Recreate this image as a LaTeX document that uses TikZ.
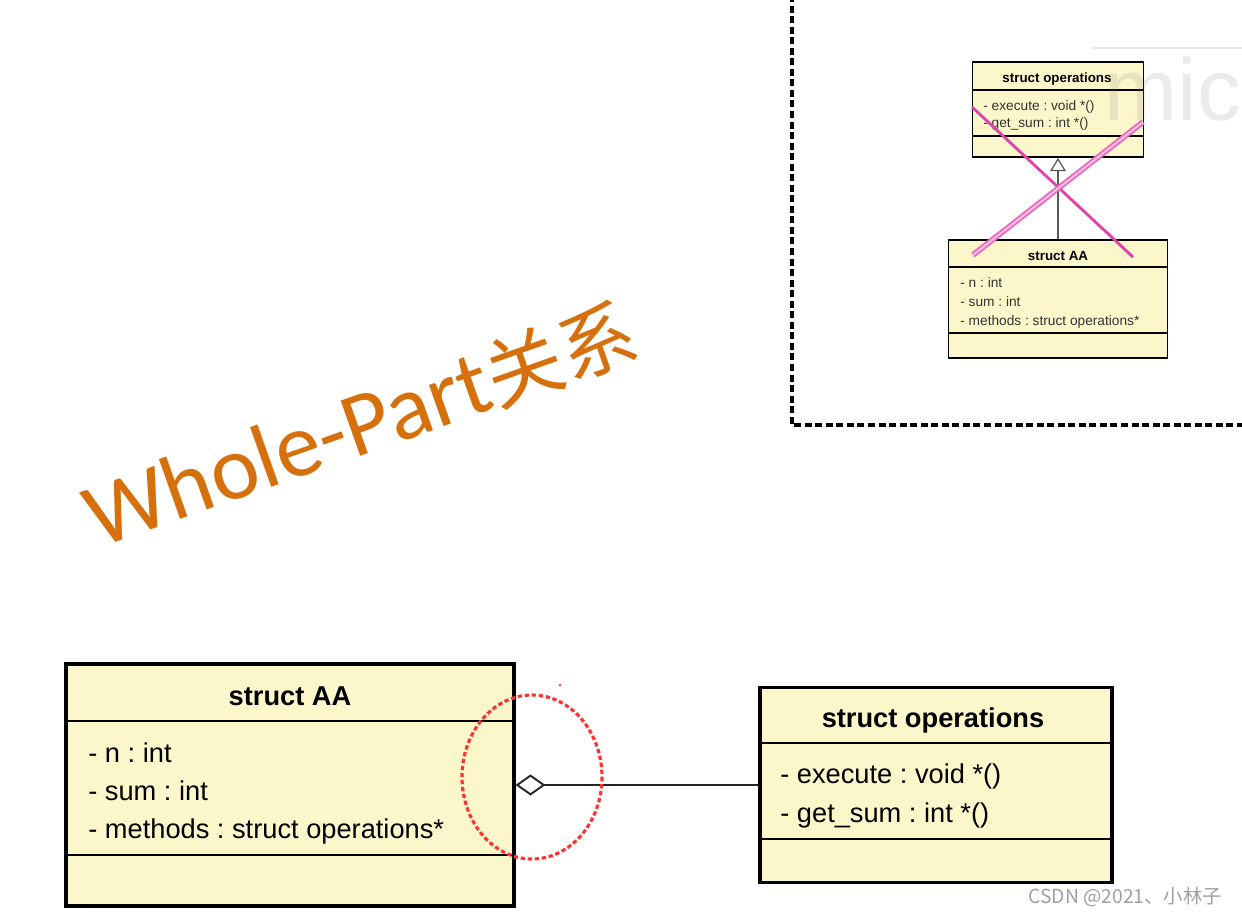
\documentclass[tikz,border=0pt]{standalone}
\usepackage{fontspec}
\setmainfont{Liberation Sans}
\newfontfamily\cjkfont{Noto Sans CJK SC}
\newfontfamily\headfont{Carlito}
\usetikzlibrary{arrows.meta,positioning}
\frenchspacing

\definecolor{classfill}{RGB}{252,247,202}
\definecolor{wordorange}{RGB}{214,112,12}
\definecolor{crosspink}{RGB}{228,64,172}

\begin{document}
\begin{tikzpicture}[x=0.02cm, y=-0.02cm,
    bigclass/.style={draw=black, line width=1.8pt, fill=classfill, inner sep=0pt},
    smallclass/.style={draw=black, line width=1.1pt, fill=classfill, inner sep=0pt},
    bigtext/.style={font=\fontsize{15.5}{18}\selectfont, anchor=base west, inner sep=0pt},
    bigtitle/.style={font=\fontsize{15.5}{18}\selectfont\bfseries, anchor=base, inner sep=0pt},
    smalltext/.style={font=\fontsize{7.8}{9}\selectfont, anchor=base west, inner sep=0pt, text=black!80},
    smalltitle/.style={font=\fontsize{7.6}{9}\selectfont\bfseries, anchor=base, inner sep=0pt}]
    \useasboundingbox (0,0) rectangle (1242,916);
    \clip (0,0) rectangle (1242,916);

    % old picture, top right
    \draw[line width=2.2pt, dash pattern=on 4pt off 2pt] (792,-5) -- (792,425) -- (1250,425);

    \node[smallclass, minimum width=3.42cm, minimum height=1.9cm] (sops) at (1058,109.5) {};
    \draw[line width=0.6pt] (972,90) -- (1144,90);
    \draw[line width=0.6pt] (972,136) -- (1144,136);
    \node[smalltitle] (sopsname) at (1057,82) {struct operations};
    \node[smalltext] (sexec) at (983,110) {- execute : void *()};
    \node[smalltext] (sget) at (983,127) {- get\_sum : int *()};

    \node[smallclass, minimum width=4.38cm, minimum height=2.36cm] (saa) at (1058,299) {};
    \draw[line width=0.6pt] (949,267) -- (1167,267);
    \draw[line width=0.6pt] (949,333) -- (1167,333);
    \node[smalltitle] (saaname) at (1058,260) {struct AA};
    \node[smalltext] (sn) at (960,287) {- n : int};
    \node[smalltext] (ssum) at (960,306) {- sum : int};
    \node[smalltext] (smeth) at (960,325) {- methods : struct operations*};

    \draw[gray!70!black, line width=0.7pt, -{Triangle[open, length=7.5pt, width=9pt]}] (saa.north) -- (sops.south);

    % watermark over it
    \node[anchor=base west, text=gray, opacity=0.16, font=\fontsize{50}{50}\selectfont, inner sep=0pt] (mic) at (1104,120) {mic};
    \draw[gray!20, line width=0.6pt] (1092,48) -- (1242,48);

    % crossed out
    \draw[crosspink, line width=1.6pt] (972,107) -- (1133,257);
    \draw[crosspink!80, line width=1pt, double=crosspink!35, double distance=1.2pt] (973,255) -- (1143,122);

    % title
    \node[anchor=base west, rotate=19.5, text=wordorange, inner sep=0pt,
          font={\fontsize{52}{52}\selectfont}] (wholepart) at (98,549) {{\headfont Whole-Part}{\cjkfont\fontsize{44}{44}\selectfont 关系}};

    % new picture, bottom
    \node[bigclass, minimum width=8.96cm, minimum height=4.84cm] (AA) at (290,785) {};
    \draw[line width=1.1pt] (66,721) -- (514,721);
    \draw[line width=1.1pt] (66,855) -- (514,855);
    \node[bigtitle] (AAname) at (290,705) {struct AA};
    \node[bigtext] (AAn) at (88,762) {- n : int};
    \node[bigtext] (AAsum) at (88,800) {- sum : int};
    \node[bigtext] (AAmeth) at (88,838) {- methods : struct operations*};

    \node[bigclass, minimum width=7.04cm, minimum height=3.9cm] (ops) at (936,785) {};
    \draw[line width=1.1pt] (760,743) -- (1112,743);
    \draw[line width=1.1pt] (760,839) -- (1112,839);
    \node[bigtitle] (opsname) at (933,727) {struct operations};
    \node[bigtext] (opsexec) at (780,783) {- execute : void *()};
    \node[bigtext] (opsget) at (780,822) {- get\_sum : int *()};

    \draw[black!85, line width=1.1pt, -{Diamond[open, length=17pt, width=12pt, line width=1.1pt]}] (ops.west) -- (AA.east);

    \draw[red!80, line width=1.8pt, dash pattern=on 2.5pt off 1.5pt] (532,777) ellipse [x radius=70, y radius=82];
    \fill[red!70] (560,685) circle [radius=1.5];

    \node[anchor=base west, text=gray!75, font=\fontsize{11}{12}\selectfont\cjkfont, inner sep=0pt] (csdn) at (1028,903) {CSDN @2021、小林子};
\end{tikzpicture}
\end{document}
